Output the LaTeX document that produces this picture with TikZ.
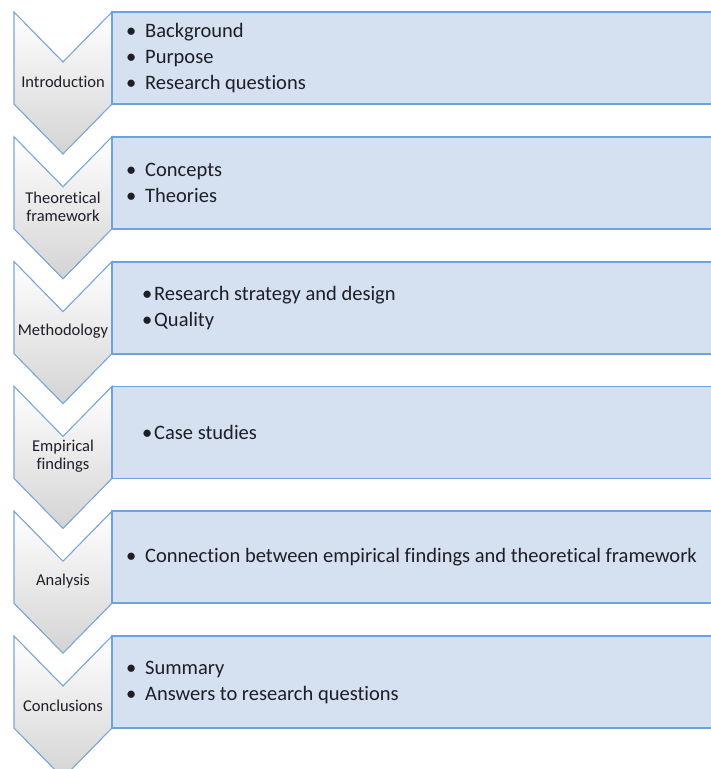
\documentclass[tikz,border=0pt]{standalone}
\usepackage{fontspec}
\setmainfont{Carlito}[Ligatures=NoCommon]
\usepackage{tikz}

\definecolor{chevline}{HTML}{7AA7DA}
\definecolor{boxfill}{HTML}{D5E0F0}
\definecolor{boxline}{HTML}{6FA2DB}
\definecolor{txt}{HTML}{1E1E28}
\newcommand{\bul}[1][19pt]{\makebox[#1][l]{\textbullet}}

\begin{document}
\begin{tikzpicture}[x=1pt, y=-1pt,
    chev/.style={draw=chevline, line width=1.1pt, top color=white, middle color=white, bottom color=black!17},
    itembox/.style={draw=boxline, line width=1.8pt, fill=boxfill},
    steplabel/.style={font=\fontsize{16.5}{18}\selectfont, text=txt, align=center, inner sep=0pt},
    items/.style={font=\fontsize{20.5}{26}\selectfont, text=txt, align=left, anchor=west, inner sep=0pt}]
  \useasboundingbox (0,0) rectangle (711,769);
  \foreach \i/\name/\lbl/\bx/\itm in {
      0/intro/Introduction/126/{\bul Background\\\bul Purpose\\\bul Research questions},
      1/theory/{Theoretical\\framework}/126/{\bul Concepts\\\bul Theories},
      2/method/Methodology/142/{\bul[12pt]Research strategy and design\\\bul[12pt]Quality},
      3/findings/{Empirical\\findings}/142/{\bul[12pt]Case studies},
      4/analysis/Analysis/126/{\bul Connection between empirical findings and theoretical framework},
      5/concl/Conclusions/126/{\bul Summary\\\bul Answers to research questions}}
  {
    \pgfmathsetmacro\t{12+124.8*\i}
    \filldraw[chev] (14,\t) -- (63,\t+50) -- (112,\t) -- (112,\t+92)
      -- (63,\t+142) -- (14,\t+92) -- cycle;
    \node[steplabel] (\name) at (63,\t+70) {\lbl};
    \draw[itembox] (112,\t) rectangle (716,\t+92);
    \node[items] (\name-items) at (\bx,\t+46) {\itm};
  }
\end{tikzpicture}
\end{document}
